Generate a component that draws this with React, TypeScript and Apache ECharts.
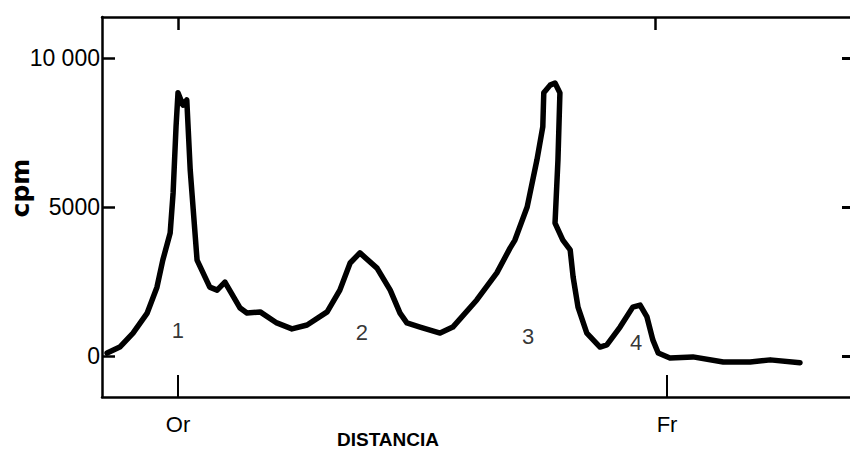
import React, { useEffect, useRef } from "react";
import * as echarts from "echarts";

// Relative distance (Or = 0, Fr = 1) and radioactivity (cpm)
const distance = [
  -0.145, -0.119, -0.092, -0.063, -0.043, -0.031, -0.016, -0.01, -0.004, 0.0,
  0.01, 0.018, 0.025, 0.039, 0.065, 0.08, 0.096, 0.127, 0.141, 0.168,
  0.202, 0.233, 0.264, 0.305, 0.331, 0.352, 0.372, 0.407, 0.434, 0.454,
  0.468, 0.495, 0.536, 0.562, 0.611, 0.652, 0.679, 0.689, 0.714, 0.734,
  0.746, 0.748, 0.761, 0.771, 0.781, 0.777, 0.771, 0.787, 0.802, 0.808,
  0.818, 0.836, 0.863, 0.877, 0.904, 0.93, 0.945, 0.959, 0.971, 0.982,
  1.006, 1.053, 1.115, 1.17, 1.211, 1.272,
];
const cpm = [
  100, 300, 770, 1440, 2310, 3220, 4130, 5470, 7690, 8830,
  8420, 8590, 6240, 3220, 2310, 2210, 2480, 1610, 1440, 1480,
  1110, 910, 1040, 1480, 2210, 3120, 3460, 2950, 2210, 1440,
  1110, 970, 770, 970, 1880, 2790, 3620, 3890, 5000, 6580,
  7690, 8830, 9090, 9160, 8830, 6580, 4460, 3890, 3560, 2650,
  1640, 770, 300, 370, 970, 1640, 1710, 1310, 540, 100,
  -70, -30, -200, -200, -130, -230,
];

const peakNames = ["1", "2", "3", "4"];
const peakX = [0.0, 0.376, 0.716, 0.937];
const peakY = [870, 800, 640, 440];

const yTicks = [0, 5000, 10000];
const xTicks = [0, 1];
const xTickNames = ["Or", "Fr"];
const topTicks = [0, 0.975];

const FONT = "'Liberation Sans', Arial, sans-serif";

export default function App() {
  const ref = useRef<HTMLDivElement>(null);
  useEffect(() => {
    if (!ref.current) return;
    const chart = echarts.init(ref.current, null, { renderer: "svg" });
    const lineData = distance.map((d, i) => [d, cpm[i]]);
    const peakData = peakNames.map((n, i) => [peakX[i], peakY[i], n]);
    const axisLine = { show: true, onZero: false, lineStyle: { color: "#000", width: 2.5 } };
    chart.setOption({
      animation: false,
      backgroundColor: "#fff",
      grid: { left: 102, right: 0, top: 17, bottom: 60, containLabel: false },
      xAxis: [
        {
          type: "value",
          min: -0.1554,
          max: 1.3742,
          position: "bottom",
          axisLine,
          splitLine: { show: false },
          axisTick: {
            show: true,
            inside: true,
            length: 22,
            customValues: xTicks,
            lineStyle: { color: "#000", width: 2 },
          },
          axisLabel: {
            show: true,
            customValues: xTicks,
            formatter: (v: number) => xTickNames[xTicks.indexOf(Math.round(v))] ?? "",
            margin: 16,
            fontSize: 22,
            color: "#000",
            fontFamily: FONT,
          },
        },
        {
          type: "value",
          min: -0.1554,
          max: 1.3742,
          position: "top",
          axisLine,
          splitLine: { show: false },
          axisTick: {
            show: true,
            inside: true,
            length: 13,
            customValues: topTicks,
            lineStyle: { color: "#000", width: 2.5 },
          },
          axisLabel: { show: false },
        },
      ],
      yAxis: [
        {
          type: "value",
          min: -1376,
          max: 11376,
          position: "left",
          axisLine,
          splitLine: { show: false },
          axisTick: {
            show: true,
            inside: true,
            length: 13,
            customValues: yTicks,
            lineStyle: { color: "#000", width: 2.5 },
          },
          axisLabel: {
            show: true,
            customValues: yTicks,
            formatter: (v: number) => (v === 10000 ? "10 000" : String(v)),
            margin: 2,
            fontSize: 23,
            color: "#000",
            fontFamily: FONT,
          },
        },
        {
          type: "value",
          min: -1376,
          max: 11376,
          position: "right",
          axisLine: { show: false, onZero: false },
          splitLine: { show: false },
          axisTick: {
            show: true,
            inside: true,
            length: 8,
            customValues: yTicks,
            lineStyle: { color: "#000", width: 3 },
          },
          axisLabel: { show: false },
        },
      ],
      graphic: [
        {
          type: "text",
          x: 8,
          y: 188,
          rotation: Math.PI / 2,
          style: {
            text: "cpm",
            fill: "#000",
            font: "bold 25px 'DejaVu Sans', sans-serif",
            align: "center",
            verticalAlign: "top",
          },
        },
        {
          type: "text",
          x: 388,
          y: 439,
          style: {
            text: "DISTANCIA",
            fill: "#000",
            font: "bold 19px 'Liberation Sans', Arial, sans-serif",
            align: "center",
            verticalAlign: "middle",
          },
        },
      ],
      series: [
        {
          type: "line",
          data: lineData,
          showSymbol: false,
          smooth: false,
          lineStyle: { color: "#000", width: 5.5, cap: "round", join: "round" },
          xAxisIndex: 0,
          yAxisIndex: 0,
        },
        {
          type: "scatter",
          data: peakData,
          symbolSize: 0,
          xAxisIndex: 0,
          yAxisIndex: 0,
          z: 5,
          label: {
            show: true,
            position: "inside",
            formatter: (p: any) => p.value[2],
            fontSize: 22,
            color: "#000",
            fontFamily: FONT,
          },
        },
      ],
    });
    return () => chart.dispose();
  }, []);
  return (
    <div
      ref={ref}
      style={{ position: "fixed", left: 0, top: 0, width: 850, height: 457, background: "#fff" }}
    />
  );
}
